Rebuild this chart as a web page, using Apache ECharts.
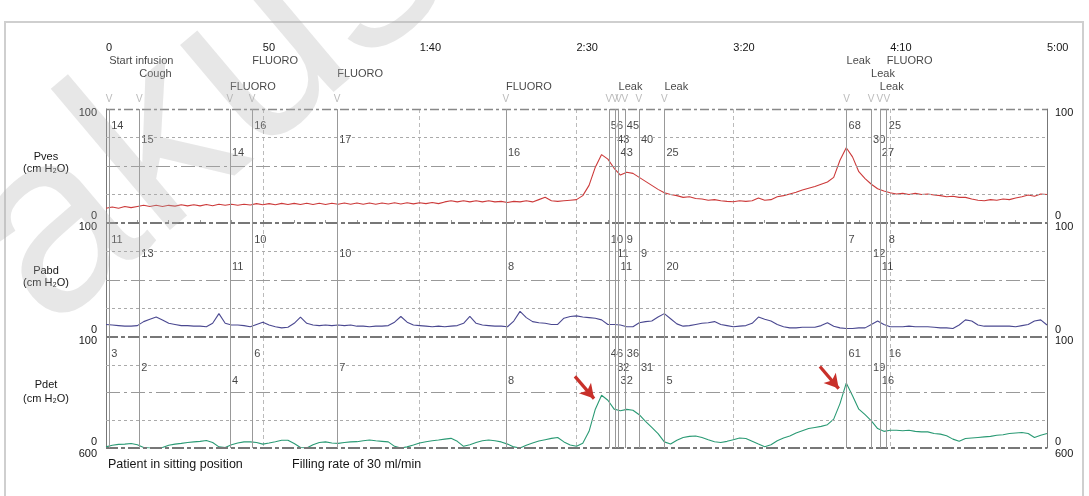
<!DOCTYPE html>
<html><head><meta charset="utf-8">
<script src="https://cdn.jsdelivr.net/npm/echarts@6/dist/echarts.min.js"></script>
<style>html,body{margin:0;padding:0;background:#fff}#c{width:1089px;height:496px}</style>
</head><body><div id="c"></div>
<script>
// ---------------- DATA ----------------
const timeTickLabels = ['0', '50', '1:40', '2:30', '3:20', '4:10', '5:00'];
const sampleStep = 2; // seconds between trace samples
const panelNames = ['Pves', 'Pabd', 'Pdet'];
const panelUnit = '(cm H₂O)';

const pvesValues = [
  13,14,13,14.5,13.5,14.5,15.5,14.5,15.5,14.5,
  15.5,14.8,16,15,16,15,16.2,15.2,16.5,15.5,
  16.5,15.5,16.5,15.8,17,16,17,16,17.2,16.2,
  17.2,16.3,17.3,16.3,17.3,16.3,17.3,16.5,17.5,16.5,
  17.5,16.5,17.5,16.5,17.5,16.7,17.7,16.7,17.7,16.8,
  17.8,17,18,17,18.5,19.5,18.5,19.5,18.5,19.5,
  18.5,19.5,18.5,19,18,19,18.5,19.5,18.5,20.5,
  22.5,19.5,19,19.5,20,20.5,24,33,49,60,
  56,48,42,44.5,43.5,40,36.5,33,29.5,26.5,
  25,24,22.5,23,21.5,21,20,20.5,19.5,19,
  18.7,19.5,19,19.5,22,20,20.5,23,24,25.5,
  27,29,30.5,32,34,36,40,55,66,58,
  45,39,34,30,28,26.5,25.5,26,25,26,
  25,25.5,24.5,24,23,23.5,22.5,22.5,21,20,
  19.5,20.5,20,21,20.5,22,23,24.5,23.5,25.5,
  25
];
const pabdValues = [
  11,10.5,10,9.5,9.5,10,13.5,15.5,17.5,15,
  12,11,10,10,9.5,9.5,9,12,20.5,12,
  10.5,10.5,10,9,11,13,10.5,9,8,8.5,
  12,17.5,12,10.5,10,10.5,10,10.5,10,10.5,
  9.5,9.5,9,9.5,9.5,10,13,18,13,10.5,
  10,9.5,9,9.5,9,9.5,10,12,18,12,
  10.5,10,9.5,9.5,9,14,22.5,17,13.5,12.5,
  12,11,11,16.5,18,18.5,17.5,17,16.5,15,
  11,11,10.5,9,9,12.5,13.5,14,17.5,20.5,
  16,11.5,9.5,10,11,12,12.5,13.5,11,10,
  9,9.5,10,12,17.5,15.5,14,11,9,8,
  8,8.5,8.5,8.5,10,12.5,9.5,8,7.5,7.5,
  8,8,11,14,11,9,9,9,9.5,9,
  9,9,8.5,8,8,7.5,10.5,15,14,10.5,
  9.5,9.5,9.5,9.5,9.5,9,10,11,14,15,
  10.5
];
const pdetValues = [
  1,2.5,3.3,3.5,4,3,0.5,0,0,0.5,
  2.5,3.5,4.2,5,5.5,6,6.8,5,1,0.5,
  3,4.5,5.5,5.5,5,3.5,4.5,5.7,7,7,
  4,0.5,0,3,5,5.5,4.5,4.2,5,5.5,
  5.7,6.5,7.2,6.5,6,5.5,1.5,0,1,2.7,
  4.5,5.7,6.5,7.2,8,8.7,6,1.5,3,5,
  6.5,7.2,6.5,5.5,3.5,1,0,2.5,4.5,6.3,
  7.5,8.7,9.5,5.5,2.7,1.5,4.2,15,35,47.5,
  43,35,33.5,34.8,34,30,24,18.5,13,5.5,
  3.6,7,9.5,10.5,10.8,9.5,7.5,5.7,5,6,
  7.5,9,8.5,6,3.5,1.2,3,6.5,9,10.8,
  13.5,15.5,17.5,18.5,19.5,21,26,40,58.5,47,
  35,30,24.5,17.5,15,16,16,15.5,16,15,
  14.5,14.5,13,12.5,11,8,6,8.5,9,9.5,
  10,10.5,11.5,12,13,13.5,14,13,9.5,11.5,
  13
];

// events (seconds) and their text labels
const eventTimes  = [1, 10.6, 39.5, 46.6, 73.7, 127.5, 160.3, 162.3, 163.4, 165.4, 169.9, 178, 236.1, 243.9, 246.7, 248.9];
const eventLabels = ['Start infusion','Cough','FLUORO','FLUORO','FLUORO','FLUORO','','','Leak','','','Leak','Leak','Leak','Leak','FLUORO'];
const pvesAtEvents = [14, 15, 14, 16, 17, 16, 56, 43, 43, 45, 40, 25, 68, 30, 27, 25];
const pabdAtEvents = [11, 13, 11, 10, 10, 8, 10, 11, 11, 9, 9, 20, 7, 12, 11, 8];
const pdetAtEvents = [3, 2, 4, 6, 7, 8, 46, 32, 32, 36, 31, 5, 61, 19, 16, 16];

const bottomNotes = ['Patient in sitting position', 'Filling rate of 30 ml/min'];

// ---------------- LAYOUT / STYLE ----------------
const FONT = '"Liberation Sans", Arial, Helvetica, sans-serif';
const L = 106, R = 1047, W = 1089;
const panelTops = [109, 223, 337];
const panelHeights = [114, 114, 111];
const traceColors = ['#cc3a3a', '#4a4890', '#2a9a74'];
const panelValues = [pvesValues, pabdValues, pdetValues];
const eventValues = [pvesAtEvents, pabdAtEvents, pdetAtEvents];
const numberRowOffsets = [17, 30.5, 44];     // px below panel top
const topRowOffsets = [48, 35, 22];          // px above first panel top
const vMarkOffset = 10;
const TXT = '#151515';

const chart = echarts.init(document.getElementById('c'));

const grids = panelTops.map((top, i) => ({ left: L, width: R - L, top: top, height: panelHeights[i] }));

const xAxes = [0, 1, 2].map(i => ({
  type: 'value', gridIndex: i, min: 0, max: 300, interval: 50, position: 'top',
  axisLine: { show: false },
  axisTick: i === 0 ? { show: true, length: 3, lineStyle: { color: '#888' } } : { show: false },
  minorTick: i === 0 ? { show: true, splitNumber: 5, length: 3, lineStyle: { color: '#999' } } : { show: false },
  minorSplitLine: { show: false },
  axisLabel: i === 0 ? {
    show: true, margin: 61, align: 'left', verticalAlign: 'middle', fontSize: 11, color: TXT,
    fontFamily: FONT, showMinLabel: true, showMaxLabel: true,
    formatter: v => timeTickLabels[Math.round(v / 50)]
  } : { show: false },
  splitLine: { show: true, lineStyle: { type: [4, 3], color: '#bbb', width: 1 } }
}));

const yAxes = [];
[0, 1, 2].forEach(i => {
  ['left', 'right'].forEach(pos => {
    yAxes.push({
      type: 'value', gridIndex: i, min: 0, max: 100, interval: 100, position: pos,
      axisLine: { show: true, lineStyle: { color: '#777', width: 1 } },
      axisTick: { show: false }, splitLine: { show: false },
      axisLabel: {
        show: true, margin: pos === 'left' ? 9 : 8, fontSize: 11, color: TXT, fontFamily: FONT,
        formatter: v => v === 100 ? '{t|100}' : (i === 2 ? '{z|0}\n{z|600}' : '{b|0}'),
        rich: {
          t: { padding: [8, 0, 0, 0], fontSize: 11, color: TXT, fontFamily: FONT },
          b: { padding: [0, 0, 15, 0], fontSize: 11, color: TXT, fontFamily: FONT },
          z: { lineHeight: 12, fontSize: 11, color: TXT, fontFamily: FONT }
        }
      }
    });
  });
});

const series = [];
[0, 1, 2].forEach(i => {
  const hLines = [
    { yAxis: 75, lineStyle: { type: [3, 3], color: '#aaa', width: 1 } },
    { yAxis: 50, lineStyle: { type: [14, 4, 3, 4], color: '#999', width: 1 } },
    { yAxis: 25, lineStyle: { type: [3, 3], color: '#aaa', width: 1 } },
    { yAxis: 0, lineStyle: { type: [12, 3, 4, 3], color: '#777', width: 2 } }
  ];
  if (i === 0) hLines.push({ yAxis: 100, lineStyle: { type: [9, 3, 3, 3], color: '#888', width: 1.3 } });
  const vLines = eventTimes.map(t => ({ xAxis: t, lineStyle: { type: 'solid', color: '#999', width: 1 } }));
  // helper series carrying grid lines and event lines
  series.push({
    type: 'line', xAxisIndex: i, yAxisIndex: 2 * i, z: 1, silent: true,
    data: eventTimes.map(t => [t, 0]), showSymbol: false, symbol: 'none',
    lineStyle: { opacity: 0 },
    markLine: { silent: true, symbol: ['none', 'none'], label: { show: false }, animation: false,
      data: hLines.concat(vLines) }
  });
  // trace
  series.push({
    type: 'line', name: panelNames[i], xAxisIndex: i, yAxisIndex: 2 * i, z: 3,
    data: panelValues[i].map((v, k) => [k * sampleStep, v]),
    showSymbol: false, symbol: 'none', smooth: false,
    lineStyle: { color: traceColors[i], width: 1.1 }
  });
  // event value labels
  const h = panelHeights[i];
  series.push({
    type: 'scatter', xAxisIndex: i, yAxisIndex: 2 * i, z: 4, silent: true,
    symbolSize: 0.1, itemStyle: { color: 'rgba(0,0,0,0)' },
    data: eventTimes.map((t, k) => [t, 100 - numberRowOffsets[k % 3] / h * 100]),
    label: { show: true, position: 'right', distance: 2, fontSize: 11, color: TXT, fontFamily: FONT,
      formatter: p => String(eventValues[i][p.dataIndex]) }
  });
});

// V markers above the first panel
const h0 = panelHeights[0];
series.push({
  type: 'scatter', xAxisIndex: 0, yAxisIndex: 0, clip: false, silent: true, z: 4,
  symbolSize: 0.1, itemStyle: { color: 'rgba(0,0,0,0)' },
  data: eventTimes.map(t => [t, 100 + vMarkOffset / h0 * 100]),
  label: { show: true, position: 'inside', formatter: 'V', fontSize: 10, color: '#aaa', fontFamily: FONT }
});
// event text labels
const labelData = [];
eventTimes.forEach((t, k) => {
  if (eventLabels[k]) labelData.push({ value: [t, 100 + topRowOffsets[k % 3] / h0 * 100], name: eventLabels[k] });
});
series.push({
  type: 'scatter', xAxisIndex: 0, yAxisIndex: 0, clip: false, silent: true, z: 4,
  symbolSize: 0.1, itemStyle: { color: 'rgba(0,0,0,0)' },
  data: labelData,
  label: { show: true, position: 'right', distance: 0, fontSize: 11, color: TXT, fontFamily: FONT,
    formatter: p => p.name }
});
// red arrows pointing at the detrusor pressure peaks
series.push({
  type: 'line', xAxisIndex: 2, yAxisIndex: 4, z: 6, silent: true, data: [], symbol: 'none',
  markLine: {
    silent: true, symbol: ['none', 'arrow'], symbolSize: [12, 14], label: { show: false }, animation: false,
    lineStyle: { color: '#c8302a', width: 3.2, type: 'solid' },
    data: [
      [{ coord: [149.5, 64.5] }, { coord: [155.6, 44.5] }],
      [{ coord: [227.6, 73.5] }, { coord: [233.6, 53.5] }]
    ]
  }
});

const graphic = [
  { type: 'rect', z: 0, shape: { x: 5, y: 22, width: 1078, height: 520 }, style: { fill: 'none', stroke: '#cfcfcf', lineWidth: 2 } }
];
const nameY = [[157, 169], [271, 283], [385, 399]];
panelNames.forEach((n, i) => {
  graphic.push({ type: 'text', x: 46, y: nameY[i][0], style: { text: n, fontSize: 11, fontFamily: FONT, fill: TXT, align: 'center', verticalAlign: 'middle' } });
  graphic.push({ type: 'text', x: 46, y: nameY[i][1], style: { text: panelUnit, fontSize: 11, fontFamily: FONT, fill: TXT, align: 'center', verticalAlign: 'middle' } });
});
graphic.push({ type: 'text', x: 108, y: 465, style: { text: bottomNotes[0], fontSize: 12.5, fontFamily: FONT, fill: TXT, align: 'left', verticalAlign: 'middle' } });
graphic.push({ type: 'text', x: 292, y: 465, style: { text: bottomNotes[1], fontSize: 12.5, fontFamily: FONT, fill: TXT, align: 'left', verticalAlign: 'middle' } });
// faint watermark
graphic.push({ type: 'text', x: 85, y: 376, rotation: 0.70, z: 100, silent: true,
  style: { text: 'akus', fontSize: 255, fontFamily: FONT, fill: 'rgba(175,175,175,0.3)', align: 'left', verticalAlign: 'bottom' } });

chart.setOption({
  animation: false,
  backgroundColor: '#fff',
  textStyle: { fontFamily: FONT },
  grid: grids,
  xAxis: xAxes,
  yAxis: yAxes,
  series: series,
  graphic: graphic
});
</script>
</body></html>
